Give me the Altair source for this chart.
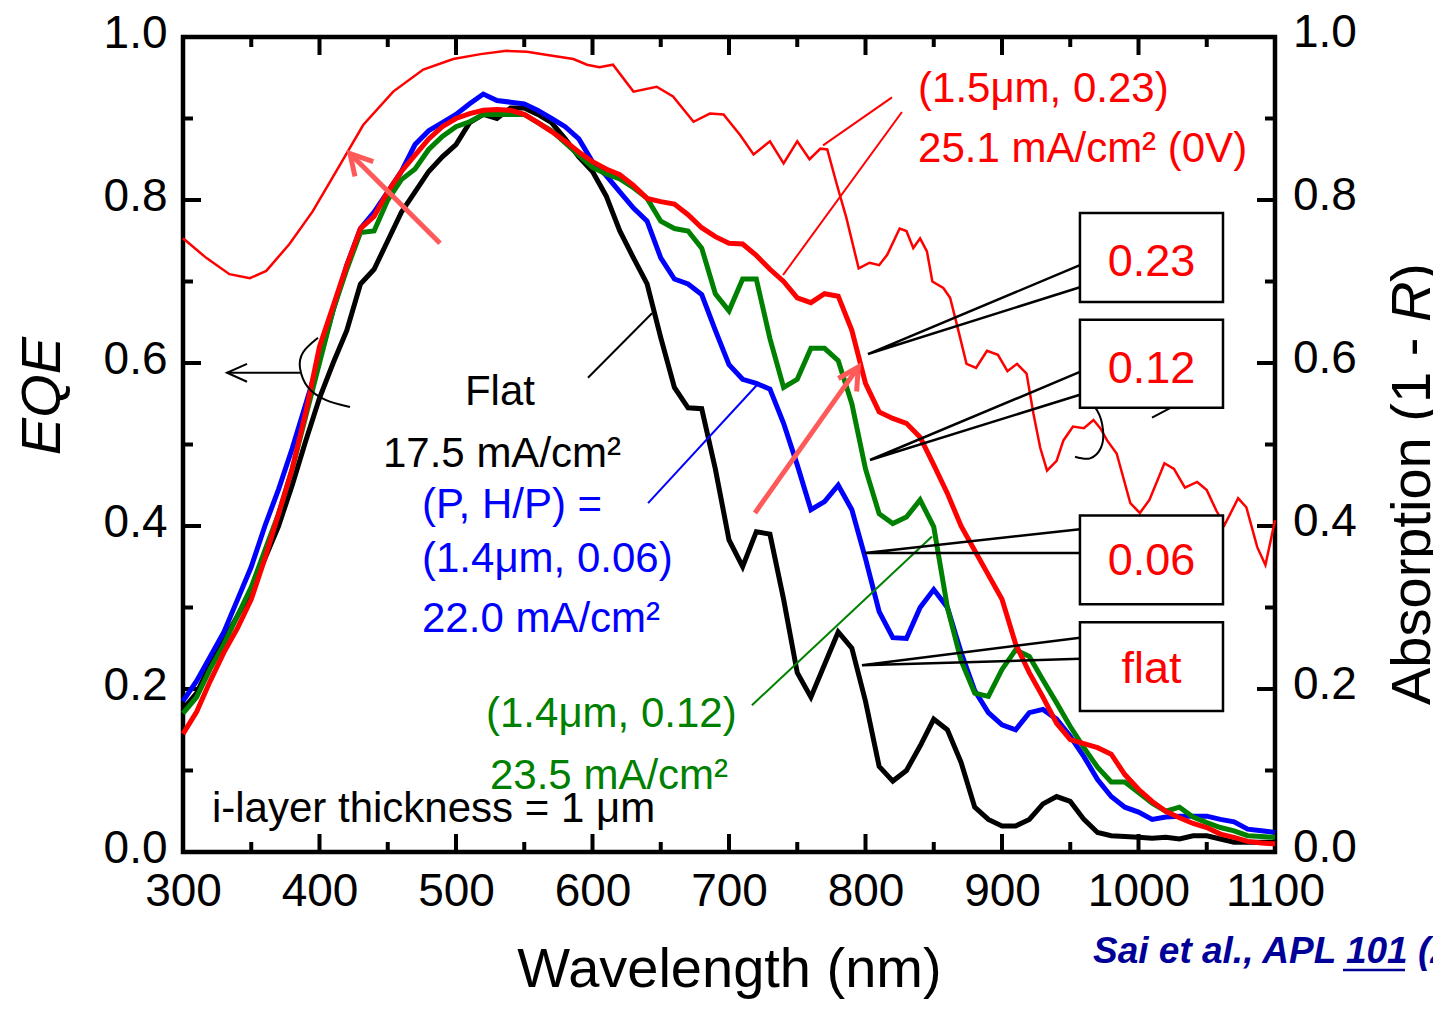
import altair as alt
import pandas as pd

FONT = "Liberation Sans"
W, H = 1092, 815

# ---------------- data ----------------
wavelength = list(range(300, 1101, 10))

eqe_flat = [
    0.175, 0.195, 0.23, 0.26, 0.29, 0.32, 0.36, 0.40, 0.45, 0.505,
    0.557, 0.60, 0.64, 0.697, 0.715, 0.75, 0.785, 0.81, 0.835, 0.853,
    0.868, 0.895, 0.905, 0.90, 0.913, 0.913, 0.905, 0.895, 0.875, 0.853,
    0.835, 0.805, 0.762, 0.729, 0.697, 0.631, 0.57, 0.545, 0.544, 0.47,
    0.383, 0.35, 0.393, 0.39, 0.31, 0.22, 0.19, 0.23, 0.27, 0.25,
    0.185, 0.105, 0.087, 0.10, 0.13, 0.163, 0.15, 0.11, 0.055, 0.04,
    0.032, 0.032, 0.04, 0.059, 0.068, 0.062, 0.04, 0.024, 0.02, 0.019,
    0.018, 0.017, 0.018, 0.016, 0.02, 0.02, 0.016, 0.012, 0.012, 0.012,
    0.012]

eqe_14_006 = [
    0.185, 0.21, 0.24, 0.27, 0.31, 0.35, 0.40, 0.445, 0.495, 0.55,
    0.605, 0.665, 0.72, 0.765, 0.785, 0.81, 0.835, 0.868, 0.885, 0.895,
    0.905, 0.918, 0.93, 0.922, 0.92, 0.918, 0.91, 0.90, 0.89, 0.875,
    0.847, 0.83, 0.81, 0.79, 0.774, 0.729, 0.703, 0.697, 0.684, 0.64,
    0.598, 0.58, 0.575, 0.568, 0.526, 0.475, 0.42, 0.43, 0.45, 0.42,
    0.36, 0.295, 0.263, 0.262, 0.30, 0.322, 0.30, 0.245, 0.198, 0.171,
    0.156, 0.15, 0.171, 0.175, 0.163, 0.142, 0.117, 0.089, 0.068, 0.055,
    0.049, 0.04, 0.043, 0.044, 0.044, 0.044, 0.04, 0.037, 0.028, 0.026,
    0.024]

eqe_14_012 = [
    0.17, 0.19, 0.225, 0.255, 0.29, 0.325, 0.37, 0.415, 0.47, 0.535,
    0.60, 0.665, 0.715, 0.76, 0.762, 0.80, 0.825, 0.838, 0.862, 0.878,
    0.89, 0.896, 0.905, 0.905, 0.905, 0.905, 0.895, 0.885, 0.87, 0.855,
    0.84, 0.832, 0.826, 0.815, 0.802, 0.774, 0.765, 0.762, 0.741, 0.685,
    0.664, 0.703, 0.703, 0.63, 0.57, 0.58, 0.618, 0.618, 0.603, 0.55,
    0.47, 0.415, 0.403, 0.411, 0.432, 0.399, 0.30, 0.235, 0.195, 0.191,
    0.224, 0.248, 0.24, 0.211, 0.183, 0.154, 0.128, 0.104, 0.086, 0.086,
    0.073, 0.06, 0.05, 0.055, 0.043, 0.036, 0.03, 0.026, 0.02, 0.019,
    0.018]

eqe_15_023 = [
    0.145, 0.172, 0.21, 0.245, 0.275, 0.31, 0.36, 0.415, 0.47, 0.54,
    0.62, 0.67, 0.72, 0.765, 0.78, 0.81, 0.835, 0.855, 0.875, 0.89,
    0.90, 0.906, 0.91, 0.911, 0.91, 0.905, 0.895, 0.884, 0.872, 0.859,
    0.847, 0.838, 0.831, 0.818, 0.802, 0.798, 0.795, 0.782, 0.766, 0.755,
    0.747, 0.746, 0.732, 0.715, 0.70, 0.68, 0.674, 0.685, 0.682, 0.64,
    0.575, 0.54, 0.532, 0.526, 0.509, 0.475, 0.44, 0.40, 0.37, 0.34,
    0.31, 0.255, 0.22, 0.19, 0.158, 0.138, 0.133, 0.128, 0.12, 0.095,
    0.077, 0.062, 0.05, 0.042, 0.035, 0.03, 0.022, 0.018, 0.013, 0.011,
    0.01]

abs_wavelength = [
    300, 317, 334, 349, 361, 378, 395, 415, 432, 454, 476, 498, 518, 537,
    552, 567, 586, 596, 605, 615, 630, 647, 659, 674, 686, 696, 708, 718,
    730, 740, 750, 759, 767, 772, 779, 786, 795, 803, 810, 816, 825, 830,
    835, 840, 845, 849, 857, 862, 868, 874, 881, 889, 897, 904, 911, 918,
    923, 928, 933, 940, 945, 952, 960, 967, 972, 977, 984, 994, 1001, 1008,
    1019, 1026, 1034, 1043, 1050, 1057, 1063, 1073, 1079, 1087, 1093, 1100]
abs_15_023 = [
    0.753, 0.729, 0.709, 0.704, 0.713, 0.746, 0.786, 0.843, 0.892, 0.933,
    0.960, 0.973, 0.979, 0.983, 0.982, 0.978, 0.973, 0.966, 0.963, 0.966,
    0.933, 0.939, 0.927, 0.896, 0.906, 0.905, 0.880, 0.856, 0.872, 0.845,
    0.872, 0.850, 0.863, 0.862, 0.819, 0.778, 0.716, 0.723, 0.720, 0.733,
    0.765, 0.762, 0.741, 0.753, 0.737, 0.700, 0.692, 0.680, 0.640, 0.599,
    0.594, 0.615, 0.610, 0.590, 0.599, 0.587, 0.538, 0.496, 0.468, 0.480,
    0.505, 0.522, 0.520, 0.530, 0.520, 0.505, 0.489, 0.428, 0.416, 0.432,
    0.477, 0.470, 0.447, 0.454, 0.444, 0.419, 0.401, 0.434, 0.423, 0.374,
    0.352, 0.407]

x_major = [300, 400, 500, 600, 700, 800, 900, 1000, 1100]
x_minor = [350, 450, 550, 650, 750, 850, 950, 1050]
y_major = [0.0, 0.2, 0.4, 0.6, 0.8, 1.0]
y_minor = [0.1, 0.3, 0.5, 0.7, 0.9]

# annotation texts (x, y in data units)
texts_left = [
    ("(1.5\u03bcm, 0.23)", 838.5, 0.920, "#FF0000"),
    ("25.1 mA/cm\u00b2 (0V)", 838.5, 0.847, "#FF0000"),
    ("17.5 mA/cm\u00b2", 446.5, 0.472, "black"),
    ("(P, H/P) =", 475.1, 0.410, "#0000FF"),
    ("(1.4\u03bcm, 0.06)", 475.1, 0.344, "#0000FF"),
    ("22.0 mA/cm\u00b2", 475.1, 0.270, "#0000FF"),
    ("(1.4\u03bcm, 0.12)", 522.0, 0.153, "#008000"),
    ("23.5 mA/cm\u00b2", 524.9, 0.077, "#008000"),
    ("i-layer thickness = 1 \u03bcm", 321.2, 0.037, "black"),
]
texts_center = [("Flat", 532.2, 0.548, "black")]

box_labels = ["0.23", "0.12", "0.06", "flat"]
box_x = [957.1, 1061.9]
box_top = [0.784, 0.653, 0.413, 0.282]
box_bottom = [0.675, 0.545, 0.304, 0.173]
box_text_y = [0.707, 0.575, 0.340, 0.207]
wedge_tip_x = [801.8, 803.3, 799.6, 797.4]
wedge_tip_y = [0.611, 0.481, 0.367, 0.229]
wedge_base_hi = [0.720, 0.589, 0.396, 0.263]
wedge_base_lo = [0.693, 0.561, 0.367, 0.237]

# ---------------- scales / axes ----------------
xs = alt.Scale(domain=[300, 1100], nice=False, zero=False)
ys = alt.Scale(domain=[0, 1], nice=False, zero=False)

x_axis = alt.Axis(values=x_major, format="d", title="Wavelength (nm)",
                  labelFont=FONT, labelFontSize=46, labelColor="black",
                  labelPadding=17, ticks=False, tickSize=0, domain=False,
                  grid=False, labelFlush=False, labelOverlap=False,
                  titleFont=FONT, titleFontSize=56, titleFontWeight="normal",
                  titleColor="black", titlePadding=28)
y_axis = alt.Axis(values=y_major, format=".1f", title=None,
                  labelFont=FONT, labelFontSize=46, labelColor="black",
                  labelPadding=16, ticks=False, tickSize=0, domain=False,
                  grid=False, labelFlush=False, labelOverlap=False,
                  labelOffset=-4)


def X(f="x"):
    return alt.X(f"{f}:Q", scale=xs, axis=x_axis)


def Y(f="y"):
    return alt.Y(f"{f}:Q", scale=ys, axis=y_axis)


def curve(xv, yv, color, width):
    df = pd.DataFrame({"x": xv, "y": yv})
    return alt.Chart(df).mark_line(color=color, strokeWidth=width).encode(
        x=X(), y=Y())


def polylines(segs, color, width, interp="linear"):
    rows = []
    for gi, (sx, sy) in enumerate(segs):
        for oi, (a, b) in enumerate(zip(sx, sy)):
            rows.append({"x": a, "y": b, "g": gi, "o": oi})
    return alt.Chart(pd.DataFrame(rows)).mark_line(
        color=color, strokeWidth=width, interpolate=interp).encode(
        x=X(), y=Y(), detail="g:N", order="o:Q")


layers = []

# inward ticks
def ticks_x(vals, length, top):
    df = pd.DataFrame({"x": vals})
    if top:
        enc = dict(y=alt.value(0), y2=alt.value(length))
    else:
        enc = dict(y=alt.value(H), y2=alt.value(H - length))
    return alt.Chart(df).mark_rule(color="black", strokeWidth=4).encode(x=X(), **enc)


def ticks_y(vals, length, right):
    df = pd.DataFrame({"y": vals})
    if right:
        enc = dict(x=alt.value(W), x2=alt.value(W - length))
    else:
        enc = dict(x=alt.value(0), x2=alt.value(length))
    return alt.Chart(df).mark_rule(color="black", strokeWidth=4).encode(y=Y(), **enc)


layers += [ticks_x(x_major, 18, False), ticks_x(x_major, 18, True),
           ticks_x(x_minor, 10, False), ticks_x(x_minor, 10, True),
           ticks_y(y_major, 18, False), ticks_y(y_major, 18, True),
           ticks_y(y_minor, 10, False), ticks_y(y_minor, 10, True)]

# right axis labels
layers.append(
    alt.Chart(pd.DataFrame({"y": y_major})).mark_text(
        align="left", baseline="middle", font=FONT, fontSize=46,
        color="black", dy=-4).encode(
        x=alt.value(W + 18), y=Y(), text=alt.Text("y:Q", format=".1f")))

# curves
layers.append(curve(abs_wavelength, abs_15_023, "#FF0000", 2.5))
layers.append(curve(wavelength, eqe_flat, "black", 5))
layers.append(curve(wavelength, eqe_14_006, "#0000FF", 5))
layers.append(curve(wavelength, eqe_14_012, "#008000", 5))
layers.append(curve(wavelength, eqe_15_023, "#FF0000", 5))

# leader lines
layers.append(polylines([([819.4, 768.9], [0.926, 0.867]),
                         ([826.7, 739.6], [0.908, 0.708])], "#FF0000", 2))
layers.append(polylines([([596.7, 643.6], [0.582, 0.661])], "black", 2))
layers.append(polylines([([640.7, 720.5], [0.428, 0.573])], "#0000FF", 2))
layers.append(polylines([([716.8, 848.7], [0.180, 0.387])], "#008000", 2))

# bracket arcs + arrows (black)
layers.append(polylines([
    ([398.9, 387.9, 385.7, 391.6, 404.0, 422.3],
     [0.631, 0.613, 0.594, 0.570, 0.555, 0.546]),
    ([958.6, 969.6, 974.0, 972.5, 964.5, 953.5],
     [0.560, 0.542, 0.518, 0.496, 0.483, 0.485]),
], "black", 2, "cardinal"))
layers.append(polylines([
    ([385.7, 332.2], [0.588, 0.588]),
    ([346.9, 332.2, 346.9], [0.599, 0.588, 0.577]),
    ([1009.9, 1024.5], [0.533, 0.546]),
], "black", 2))

# salmon arrows
layers.append(polylines([
    ([488.3, 422.3], [0.747, 0.857]),
    ([439.4, 422.3, 426.0], [0.847, 0.857, 0.829]),
    ([719.0, 794.7], [0.416, 0.595]),
    ([780.1, 794.7, 793.5], [0.581, 0.595, 0.565]),
], "#FF5A5A", 5))

# callout wedges
wedge_segs = []
for i in range(4):
    wedge_segs.append(([box_x[0], wedge_tip_x[i], box_x[0]],
                       [wedge_base_hi[i], wedge_tip_y[i], wedge_base_lo[i]]))
layers.append(polylines(wedge_segs, "black", 2.5))

# callout boxes
box_df = pd.DataFrame({"x": [box_x[0]] * 4, "x2": [box_x[1]] * 4,
                       "y": box_top, "y2": box_bottom})
layers.append(alt.Chart(box_df).mark_rect(
    fill="white", stroke="black", strokeWidth=2.5).encode(
    x=X(), x2="x2:Q", y=Y(), y2="y2:Q"))
box_txt = pd.DataFrame({"x": [(box_x[0] + box_x[1]) / 2] * 4,
                        "y": box_text_y, "t": box_labels})
layers.append(alt.Chart(box_txt).mark_text(
    align="center", baseline="alphabetic", font=FONT, fontSize=45,
    color="#FF0000").encode(x=X(), y=Y(), text="t:N"))

# in-plot texts
tl = pd.DataFrame(texts_left, columns=["t", "x", "y", "c"])
layers.append(alt.Chart(tl).mark_text(
    align="left", baseline="alphabetic", font=FONT, fontSize=42).encode(
    x=X(), y=Y(), text="t:N", color=alt.Color("c:N", scale=None)))
tc = pd.DataFrame(texts_center, columns=["t", "x", "y", "c"])
layers.append(alt.Chart(tc).mark_text(
    align="center", baseline="alphabetic", font=FONT, fontSize=42).encode(
    x=X(), y=Y(), text="t:N", color=alt.Color("c:N", scale=None)))

# axis titles drawn as text
def label(t, x, y, **kw):
    return alt.Chart(pd.DataFrame({"t": [t]})).mark_text(
        font=FONT, **kw).encode(x=alt.value(x), y=alt.value(y), text="t:N")


layers.append(label("EQE", -123, 359, angle=270, fontSize=56,
                    fontStyle="italic", align="center",
                    baseline="alphabetic", color="black"))
layers.append(label("Absorption (1 - ", 1247, 668, angle=270, fontSize=56,
                    align="left", baseline="alphabetic", color="black"))
layers.append(label("R", 1247, 285, angle=270, fontSize=56, fontStyle="italic",
                    align="left", baseline="alphabetic", color="black"))
layers.append(label(")", 1247, 245, angle=270, fontSize=56,
                    align="left", baseline="alphabetic", color="black"))

# citation
layers.append(label("Sai et al., APL 101 (2012)", 910, 926, fontSize=37,
                    fontWeight="bold", fontStyle="italic", align="left",
                    baseline="alphabetic", color="#000099"))
layers.append(alt.Chart(pd.DataFrame({"a": [0]})).mark_rule(
    color="#000099", strokeWidth=2.5).encode(
    x=alt.value(1160), x2=alt.value(1222), y=alt.value(933)))

chart = alt.layer(*layers).properties(
    width=W, height=H,
    padding={"left": 175, "top": 29, "right": 158, "bottom": 148},
    autosize=alt.AutoSizeParams(type="none"),
).configure_view(stroke="black", strokeWidth=4.5)

chart.save("out.html", embed_options={"renderer": "svg", "actions": False})
